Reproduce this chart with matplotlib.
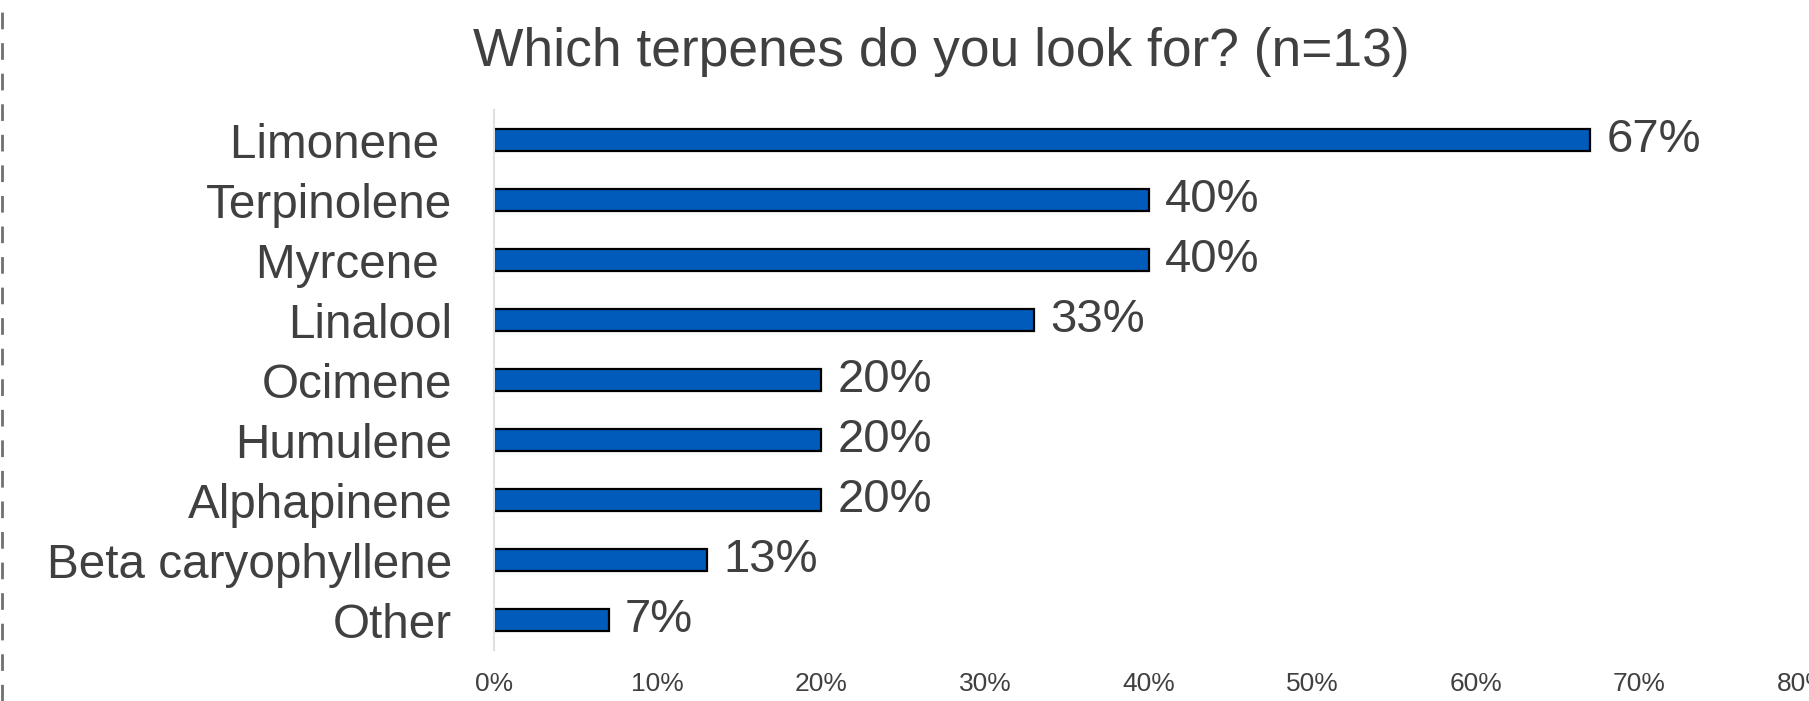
import matplotlib.pyplot as plt
from matplotlib.lines import Line2D
from matplotlib.ticker import MultipleLocator, PercentFormatter

plt.rcParams['font.family'] = ['Liberation Sans', 'DejaVu Sans']

terpenes = ["Limonene ", "Terpinolene", "Myrcene ", "Linalool", "Ocimene",
            "Humulene", "Alphapinene", "Beta caryophyllene", "Other"]
share = [67, 40, 40, 33, 20, 20, 20, 13, 7]
title = "Which terpenes do you look for? (n=13)"

text_color = '#404040'
bar_color = '#005BBB'

W, H = 1809, 701
fig = plt.figure(figsize=(W / 100, H / 100), dpi=100)
# axes box in pixels: x 494..1803, y 110..650
ax = fig.add_axes([494 / W, 1 - 650 / H, (1803 - 494) / W, (650 - 110) / H])

ypos = list(range(len(terpenes)))
ax.barh(ypos, share, height=0.38, color=bar_color, edgecolor='black', linewidth=1.6)
ax.set_ylim(len(terpenes) - 0.5, -0.5)
ax.set_xlim(0, 80)

for y, v in zip(ypos, share):
    ax.text(v + 1.0, y, f"{v}%", va='center', ha='left', fontsize=34, color=text_color)

ax.set_yticks(ypos)
ax.set_yticklabels(terpenes, fontsize=34.3, color=text_color)
ax.xaxis.set_major_locator(MultipleLocator(10))
ax.xaxis.set_major_formatter(PercentFormatter(decimals=0))
ax.tick_params(axis='x', labelsize=19, colors=text_color, length=0, pad=16)
ax.tick_params(axis='y', length=0, pad=30)

for side in ['top', 'right', 'bottom']:
    ax.spines[side].set_visible(False)
ax.spines['left'].set_color('#e0e0e0')
ax.spines['left'].set_linewidth(1.5)

fig.text(941 / W, 1 - 52 / H, title, ha='center', va='center', fontsize=38.4, color=text_color)

# dashed border on the left edge
fig.add_artist(Line2D([1.5 / W, 1.5 / W], [0, 1], transform=fig.transFigure,
                      color='#707070', linewidth=2, linestyle=(0, (6, 5))))

fig.savefig('out.png', dpi=100)
